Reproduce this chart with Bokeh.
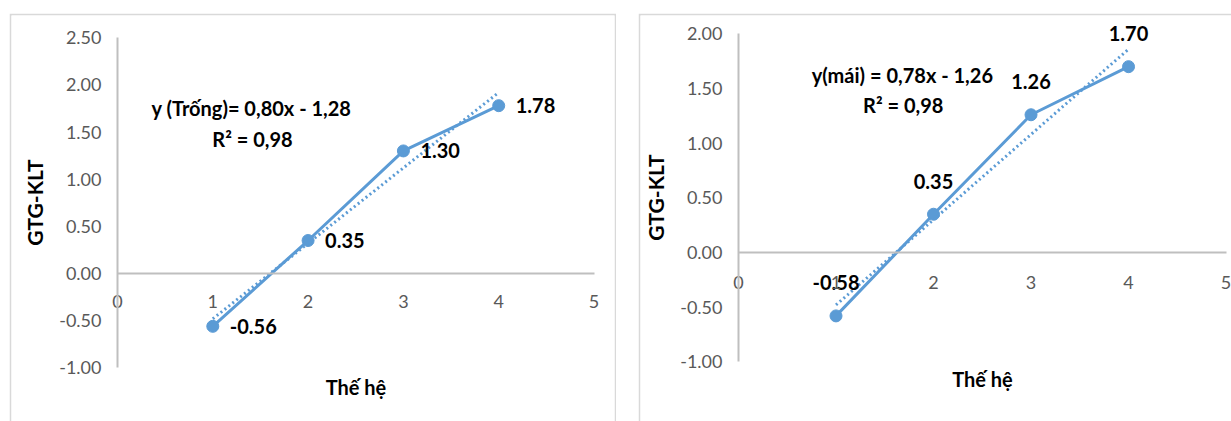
from bokeh.plotting import figure
from bokeh.models import FixedTicker, NumeralTickFormatter
from bokeh.layouts import row
from bokeh.embed import file_html
from bokeh.resources import INLINE
from bokeh.core.properties import value

# ---- data -------------------------------------------------------------
generations = [1, 2, 3, 4]

gtg_trong = [-0.56, 0.35, 1.30, 1.78]
gtg_mai = [-0.58, 0.35, 1.26, 1.70]

trend_trong = {"slope": 0.80, "intercept": -1.28, "r2": 0.98}
trend_mai = {"slope": 0.78, "intercept": -1.26, "r2": 0.98}

eq_trong = "y (Trống)= 0,80x - 1,28"
eq_mai = "y(mái) = 0,78x - 1,26"
r2_text = "R² = 0,98"

x_ticks = [0, 1, 2, 3, 4, 5]
y_ticks_trong = [-1.0, -0.5, 0.0, 0.5, 1.0, 1.5, 2.0, 2.5]
y_ticks_mai = [-1.0, -0.5, 0.0, 0.5, 1.0, 1.5, 2.0]

x_title = "Thế hệ"
y_title = "GTG-KLT"

# ---- styling ----------------------------------------------------------
BLUE = "#5B9BD5"
AXIS_GREY = "#bfbfbf"
TICK_GREY = "#595959"
PANEL_BORDER = "#d9d9d9"
FONT = "Lato"


def make_panel(values, trend, eq, y_ticks, width, height, x_range, y_range,
               borders, label_mode, eq_pos, r2_pos, x_label_standoff,
               x_title_standoff):
    left, right, top, bottom = borders
    p = figure(width=width, height=height, x_range=x_range, y_range=y_range,
               output_backend="svg", toolbar_location=None, title=None,
               min_border_left=left, min_border_right=right,
               min_border_top=top, min_border_bottom=bottom,
               border_fill_color=PANEL_BORDER, background_fill_color="white",
               outline_line_color=None)

    # axes crossing at the origin, as in a spreadsheet chart
    xa = p.xaxis[0]
    xa.fixed_location = 0
    xa.bounds = (x_ticks[0], x_ticks[-1])
    xa.ticker = FixedTicker(ticks=x_ticks)
    ya = p.yaxis[0]
    ya.fixed_location = 0
    ya.bounds = (y_ticks[0], y_ticks[-1])
    ya.ticker = FixedTicker(ticks=y_ticks)
    ya.formatter = NumeralTickFormatter(format="0.00")

    for ax in (xa, ya):
        ax.axis_line_color = AXIS_GREY
        ax.axis_line_width = 2
        ax.major_tick_line_color = None
        ax.minor_tick_line_color = None
        ax.major_tick_out = 0
        ax.major_tick_in = 0
        ax.major_label_text_font = FONT
        ax.major_label_text_font_size = "18px"
        ax.major_label_text_color = TICK_GREY
        ax.axis_label_text_font = FONT
        ax.axis_label_text_font_style = "bold"
        ax.axis_label_text_color = "black"

    xa.major_label_standoff = x_label_standoff
    xa.axis_label = x_title
    xa.axis_label_standoff = x_title_standoff
    xa.axis_label_text_font_size = "20px"
    ya.major_label_standoff = 16
    ya.axis_label = y_title
    ya.axis_label_standoff = 9
    ya.axis_label_text_font_size = "21px"
    p.xgrid.visible = False
    p.ygrid.visible = False

    # series line and markers
    p.line(generations, values, line_width=3, color=BLUE)
    p.scatter(generations, values, size=12, color=BLUE)

    # linear trend line over the observed generations
    tx = [generations[0], generations[-1]]
    ty = [trend["slope"] * x + trend["intercept"] for x in tx]
    p.line(tx, ty, line_width=3, color=BLUE, line_dash="2 3")

    labels = [f"{v:.2f}" for v in values]
    text_kw = dict(text_font=value(FONT), text_font_style="bold",
                   text_font_size="20px", text_color="black")
    if label_mode == "right":
        p.text(generations, values, text=labels, x_offset=17,
               text_align="left", text_baseline="middle", **text_kw)
    else:
        p.text(generations, values, text=labels, y_offset=-33,
               text_align="center", text_baseline="middle", **text_kw)

    p.text([eq_pos[0]], [eq_pos[1]], text=[eq], text_align="center",
           text_baseline="middle", **text_kw)
    p.text([r2_pos[0]], [r2_pos[1]], text=[r2_text], text_align="center",
           text_baseline="middle", **text_kw)
    return p


p1 = make_panel(gtg_trong, trend_trong, eq_trong, y_ticks_trong,
                width=607, height=408,
                x_range=(-1.112, 5.215), y_range=(-1.569, 2.736),
                borders=(2, 2, 2, 0), label_mode="right",
                eq_pos=(1.406, 1.75), r2_pos=(1.417, 1.43),
                x_label_standoff=21, x_title_standoff=64)
p1.margin = (13, 0, 0, 9)

p2 = make_panel(gtg_mai, trend_mai, eq_mai, y_ticks_mai,
                width=593, height=408,
                x_range=(-1.005, 5.056), y_range=(-1.546, 2.168),
                borders=(2, 0, 2, 0), label_mode="above",
                eq_pos=(1.68, 1.62), r2_pos=(1.69, 1.345),
                x_label_standoff=24, x_title_standoff=74)
p2.margin = (13, 0, 0, 22)

layout = row(p1, p2)
open("out.html", "w").write(file_html(layout, INLINE))
